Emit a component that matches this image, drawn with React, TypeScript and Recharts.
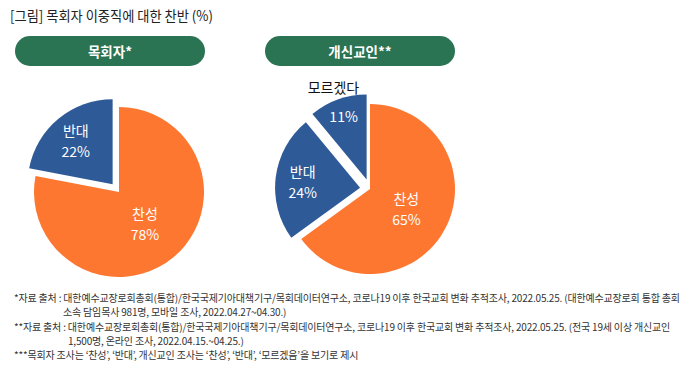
import React from "react";
import { PieChart, Pie, Cell } from "recharts";

// Data
const pastorCategories = ["찬성", "반대"];
const pastorValues = [78, 22];
const layCategories = ["찬성", "반대", "모르겠다"];
const layValues = [65, 24, 11];

const chartTitle = "[그림] 목회자 이중직에 대한 찬반 (%)";
const panelTitles = ["목회자*", "개신교인**"];
const footnotes = [
  "*자료 출처 : 대한예수교장로회총회(통합)/한국국제기아대책기구/목회데이터연구소, 코로나19 이후 한국교회 변화 추적조사, 2022.05.25. (대한예수교장로회 통합 총회",
  "소속 담임목사 981명, 모바일 조사, 2022.04.27~04.30.)",
  "**자료 출처 : 대한예수교장로회총회(통합)/한국국제기아대책기구/목회데이터연구소, 코로나19 이후 한국교회 변화 추적조사, 2022.05.25. (전국 19세 이상 개신교인",
  "1,500명, 온라인 조사, 2022.04.15.~04.25.)",
  "***목회자 조사는 ‘찬성’, ‘반대’, 개신교인 조사는 ‘찬성’, ‘반대’, ‘모르겠음’을 보기로 제시",
];

const ORANGE = "#FE7730";
const BLUE = "#2E5A98";
const GREEN = "#2A7353";
const FONT = "'Noto Sans CJK KR', 'Noto Sans', sans-serif";
const RAD = Math.PI / 180;
const EXPLODE = 10;
const RADIUS = 85;

// footnote line positions (x, baseline)
const noteLayout = [
  { x: 14, y: 302 },
  { x: 63, y: 316 },
  { x: 14, y: 331 },
  { x: 68, y: 345 },
  { x: 14, y: 359 },
];

const toData = (cats: string[], vals: number[]) =>
  cats.map((name, i) => ({ name, value: vals[i] }));

// mid angle (recharts convention) of slice i
const midAngleOf = (vals: number[], i: number) => {
  const total = vals.reduce((a, b) => a + b, 0);
  const before = vals.slice(0, i).reduce((a, b) => a + b, 0);
  return 90 - (360 * (before + vals[i] / 2)) / total;
};

const makeLabel = (visible: number) => (props: any) => {
  const { cx, cy, midAngle, outerRadius, percent, index, name, value } = props;
  if (index !== visible) return null;
  const cos = Math.cos(-midAngle * RAD);
  const sin = Math.sin(-midAngle * RAD);
  const small = percent < 0.15;
  const ratio = index === 0 ? 0.48 : small ? 0.8 : 0.68;
  const x = cx + outerRadius * ratio * cos;
  const y = cy + outerRadius * ratio * sin;
  const textStyle = { fontFamily: FONT, fontSize: 14, fontWeight: 400 };
  if (small) {
    const nx = cx + (outerRadius + 13) * cos;
    const ny = cy + (outerRadius + 13) * sin;
    return (
      <g>
        <text x={nx} y={ny} fill="#111" textAnchor="middle" dominantBaseline="central" style={textStyle}>
          {name}
        </text>
        <text x={x} y={y} fill="#fff" textAnchor="middle" dominantBaseline="central" style={textStyle}>
          {`${value}%`}
        </text>
      </g>
    );
  }
  return (
    <g>
      <text x={x} y={y - 10} fill="#fff" textAnchor="middle" dominantBaseline="central" style={textStyle}>
        {name}
      </text>
      <text x={x} y={y + 11} fill="#fff" textAnchor="middle" dominantBaseline="central" style={textStyle}>
        {`${value}%`}
      </text>
    </g>
  );
};

// one Pie layer per slice, so each slice can be pulled out on its own
const explodedPie = (
  key: string,
  cats: string[],
  vals: number[],
  cx: number,
  cy: number,
  exploded: number[]
) => {
  const data = toData(cats, vals);
  return cats.map((_, i) => {
    const mid = midAngleOf(vals, i);
    const off = exploded.includes(i) ? EXPLODE : 0;
    return (
      <Pie
        key={`${key}-${i}`}
        data={data}
        dataKey="value"
        nameKey="name"
        cx={cx + off * Math.cos(mid * RAD)}
        cy={cy - off * Math.sin(mid * RAD)}
        outerRadius={RADIUS}
        startAngle={90}
        endAngle={-270}
        stroke="none"
        labelLine={false}
        label={makeLabel(i)}
        isAnimationActive={false}
      >
        {data.map((_, j) => (
          <Cell
            key={j}
            fill={j === i ? (j === 0 ? ORANGE : BLUE) : "transparent"}
            stroke="none"
          />
        ))}
      </Pie>
    );
  });
};

export default function App() {
  return (
    <div
      style={{
        position: "absolute",
        left: 0,
        top: 0,
        width: 690,
        height: 378,
        background: "#fff",
        fontFamily: FONT,
      }}
    >
      <div style={{ position: "absolute", left: 0, top: 0 }}>
        <PieChart width={690} height={378}>
          {explodedPie("pastor", pastorCategories, pastorValues, 114, 187, [1])}
          {explodedPie("lay", layCategories, layValues, 365, 184, [1, 2])}
        </PieChart>
      </div>
      <svg
        width={690}
        height={378}
        style={{ position: "absolute", left: 0, top: 0, pointerEvents: "none" }}
      >
        <text x={10} y={21} fill="#222" style={{ fontFamily: FONT, fontSize: 14 }} textLength={203} lengthAdjust="spacingAndGlyphs">
          {chartTitle}
        </text>
        {panelTitles.map((t, i) => (
          <g key={t}>
            <rect x={15 + i * 250} y={36} width={190} height={30} rx={15} fill={GREEN} />
            <text
              x={110 + i * 250}
              y={51}
              fill="#fff"
              textAnchor="middle"
              dominantBaseline="central"
              style={{ fontFamily: FONT, fontSize: 13.5, fontWeight: 700 }}
            >
              {t}
            </text>
          </g>
        ))}
        {footnotes.map((line, i) => (
          <text
            key={i}
            x={noteLayout[i].x}
            y={noteLayout[i].y}
            fill="#333"
            style={{ fontFamily: FONT, fontSize: 10, letterSpacing: -0.18 }}
          >
            {line}
          </text>
        ))}
      </svg>
    </div>
  );
}
